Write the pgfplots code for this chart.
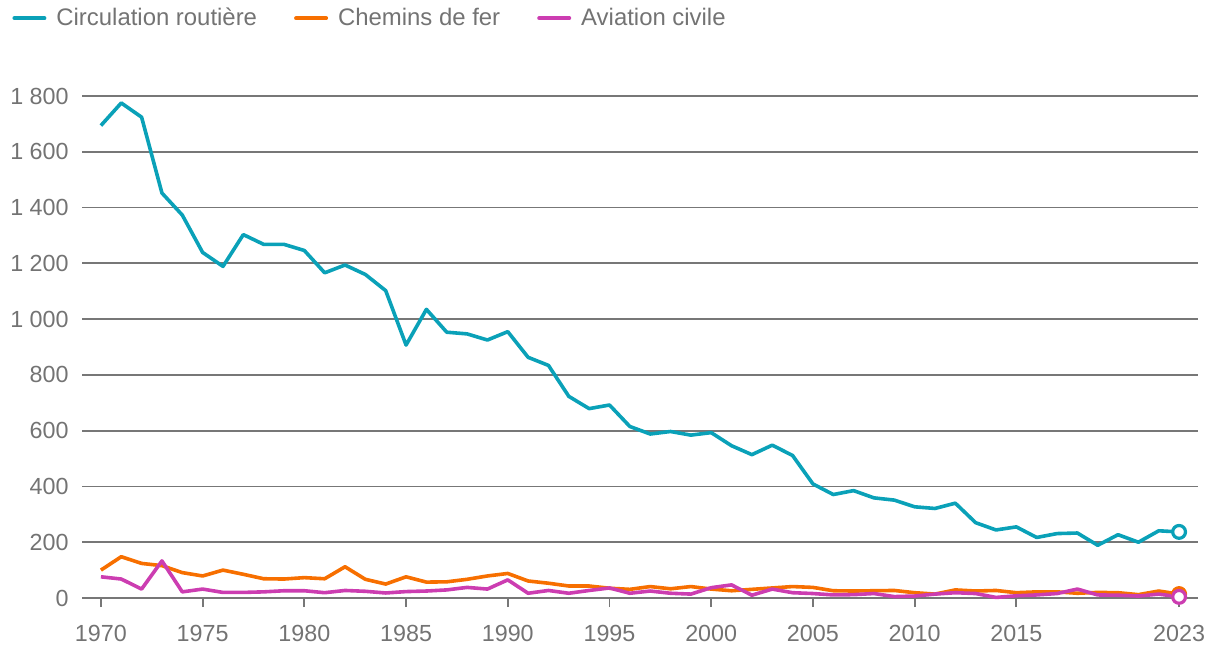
\documentclass[border=0pt]{standalone}
\usepackage{fontspec}
\setmainfont{Liberation Sans}
\usepackage{pgfplots}
\usepackage{pgfplotstable}
\pgfplotsset{compat=1.18}

\definecolor{road}{HTML}{0AA1B8}
\definecolor{rail}{HTML}{F76F00}
\definecolor{avia}{HTML}{CC3DB1}
\definecolor{txt}{HTML}{737373}
\definecolor{gridc}{HTML}{777777}

\pgfplotstableread{
year road rail avia
1970 1694 100 76
1971 1775 148 68
1972 1724 124 32
1973 1452 116 133
1974 1373 91 22
1975 1239 79 32
1976 1189 100 20
1977 1303 85 20
1978 1268 69 22
1979 1268 68 26
1980 1246 73 26
1981 1166 69 19
1982 1194 112 27
1983 1160 67 24
1984 1102 50 18
1985 907 76 23
1986 1035 57 25
1987 953 58 29
1988 947 67 38
1989 925 79 32
1990 955 88 65
1991 863 61 17
1992 834 53 27
1993 723 43 17
1994 679 43 27
1995 692 35 36
1996 615 31 17
1997 588 41 25
1998 597 33 17
1999 584 41 14
2000 593 32 37
2001 546 26 47
2002 514 31 10
2003 548 36 32
2004 511 41 19
2005 409 38 16
2006 371 26 11
2007 385 25 12
2008 359 26 16
2009 351 27 5
2010 327 19 7
2011 321 14 14
2012 340 29 19
2013 270 25 16
2014 244 27 2
2015 255 19 8
2016 217 22 11
2017 231 22 16
2018 233 17 32
2019 189 20 11
2020 227 19 10
2021 200 12 7
2022 241 25 14
2023 237 14 4
}\datatable

\begin{document}
\begin{tikzpicture}
\useasboundingbox (-41bp,-31bp) rectangle (569bp,299bp);
\begin{axis}[
    at={(0,0)}, anchor=south west,
    scale only axis,
    width=558bp, height=251bp,
    xmin=1969.07, xmax=2023.93,
    ymin=0, ymax=1800,
    clip=false,
    axis line style={draw=none},
    tick pos=left,
    xtick={1970,1975,1980,1985,1990,1995,2000,2005,2010,2015,2023},
    xticklabels={1970,1975,1980,1985,1990,1995,2000,2005,2010,2015,2023},
    ytick={0,200,...,1800},
    yticklabels={0,200,400,600,800,1\ 000,1\ 200,1\ 400,1\ 600,1\ 800},
    tick align=outside,
    major tick length=4.5bp,
    xtick style={draw=gridc, line width=0.9bp},
    ytick style={draw=none},
    ymajorgrids,
    major grid style={draw=gridc, line width=0.9bp},
    tick label style={font=\fontsize{11.7}{14}\selectfont, text=txt, inner sep=0pt},
    xticklabel style={anchor=north, yshift=-9bp},
    yticklabel style={anchor=east, xshift=-2bp},
    legend columns=3,
    legend style={
        at={(axis description cs:-0.0627,1.155)}, anchor=west,
        draw=none, fill=none, inner sep=0pt,
        font=\fontsize{12}{14}\selectfont, text=txt,
        column sep=5bp,
        /tikz/every even column/.append style={column sep=18.5bp},
        nodes={inner sep=0pt, anchor=west},
    },
    legend cell align=left,
    legend image code/.code={\draw[line width=2bp, line cap=round] (0bp,0bp) -- (15bp,0bp);},
    every axis plot/.append style={line width=1.8bp, line join=round},
]
\addplot[road, mark=*, mark indices={54}, mark size=3.2bp, mark options={fill=white, line width=1.6bp}] table[x=year, y=road] {\datatable};
\addlegendentry{Circulation routière}
\addplot[rail, mark=*, mark indices={54}, mark size=3.2bp, mark options={fill=white, line width=1.6bp}] table[x=year, y=rail] {\datatable};
\addlegendentry{Chemins de fer}
\addplot[avia, mark=*, mark indices={54}, mark size=3.2bp, mark options={fill=white, line width=1.6bp}] table[x=year, y=avia] {\datatable};
\addlegendentry{Aviation civile}
\end{axis}
\end{tikzpicture}
\end{document}
